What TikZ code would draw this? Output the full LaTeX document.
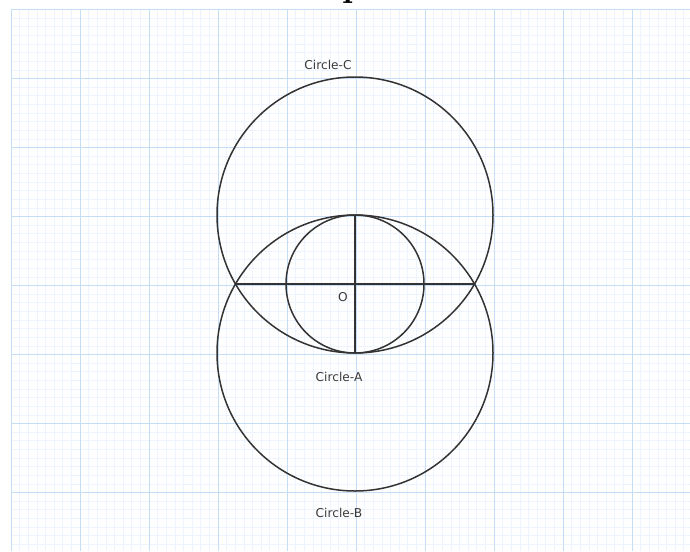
\documentclass[tikz,border=0pt]{standalone}
\usepackage{fontspec}
\newfontfamily\lblfont{DejaVu Sans}
\definecolor{minorgrid}{HTML}{EDF4FD}
\definecolor{majorgrid}{HTML}{C6DDF6}
\definecolor{ink}{HTML}{333333}
\definecolor{txt}{HTML}{3A3A3A}
\begin{document}
\begin{tikzpicture}[x=1pt,y=-1pt,
  circ/.style={draw=ink,line width=1.5pt},
  seg/.style={draw=ink,line width=1.5pt},
  lbl/.style={font=\lblfont\fontsize{12.2}{14}\selectfont,text=txt,inner sep=0pt}]
\useasboundingbox (0,0) rectangle (690,551);
\fill[white] (0,0) rectangle (690,551);
% grid
\foreach \i in {0,...,80}{
  \draw[minorgrid,line width=0.7pt] ({11+\i*69/8},9.5) -- ({11+\i*69/8},551);
}
\foreach \i in {0,...,63}{
  \draw[minorgrid,line width=0.7pt] (11,{9.5+\i*69/8}) -- (690,{9.5+\i*69/8});
}
\foreach \i in {0,...,9}{
  \draw[majorgrid,line width=0.9pt] ({11+\i*69},9.5) -- ({11+\i*69},551);
}
\foreach \i in {0,...,7}{
  \draw[majorgrid,line width=0.9pt] (11,{9.5+\i*69}) -- (690,{9.5+\i*69});
}
% clipped title fragment
\begin{scope}
\clip (0,0) rectangle (690,551);
\node[anchor=base west,inner sep=0pt,font=\fontsize{36}{40}\selectfont\bfseries] (title) at (342,-3) {p};
\end{scope}
% centers
\coordinate (cC) at (355,215);
\coordinate (cB) at (355,353);
\coordinate (cA) at (355,284);
\draw[circ] (cC) circle[radius=138];
\draw[circ] (cB) circle[radius=138];
\draw[circ] (cA) circle[radius=69];
\coordinate (L) at (235.5,284);
\coordinate (R) at (474.5,284);
\coordinate (T) at (355,215);
\coordinate (Bt) at (355,353);
\draw[seg] (L) -- (R);
\draw[seg] (T) -- (Bt);
% labels
\node[lbl] (lC) at (328,65) {Circle-C};
\node[lbl] (lA) at (339,377) {Circle-A};
\node[lbl] (lB) at (339,513) {Circle-B};
\node[lbl] (lO) at (343,297) {O};
\end{tikzpicture}
\end{document}
